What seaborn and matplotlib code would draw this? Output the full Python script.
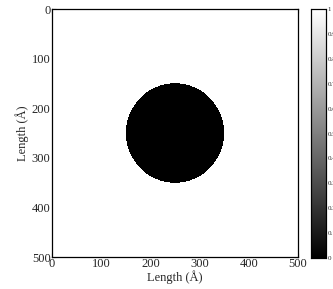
import numpy as np
import pandas as pd
import seaborn as sns
import matplotlib
matplotlib.use("Agg")
import matplotlib.pyplot as plt

# Data: binary mask of a disc on a 500 x 500 Å grid
grid_size = 500
disc_center_x = 250
disc_center_y = 250
disc_radius = 100
inside_value = 0.0
outside_value = 1.0
tick_values = [0, 100, 200, 300, 400, 500]
tick_labels = ["0", "100", "200", "300", "400", "500"]
cbar_ticks = [0, 0.1, 0.2, 0.3, 0.4, 0.5, 0.6, 0.7, 0.8, 0.9, 1.0]
cbar_labels = ["0", "0.1", "0.2", "0.3", "0.4", "0.5", "0.6", "0.7", "0.8", "0.9", "1"]

yy, xx = np.mgrid[0:grid_size, 0:grid_size] + 0.5
mask = (xx - disc_center_x) ** 2 + (yy - disc_center_y) ** 2 <= disc_radius ** 2
field = np.where(mask, inside_value, outside_value)
df = pd.DataFrame(field)

sns.set_style("white")
plt.rcParams["font.family"] = ["Liberation Serif", "DejaVu Serif"]

fig = plt.figure(figsize=(3.33, 2.89), dpi=100)
ax = fig.add_axes([52 / 333, 1 - 257 / 289, 246 / 333, 248 / 289])
cax = fig.add_axes([311 / 333, 1 - 258 / 289, 15 / 333, 249 / 289])

sns.heatmap(df, ax=ax, cbar_ax=cax, cmap="gray", vmin=0, vmax=1,
            xticklabels=False, yticklabels=False, rasterized=True)

ax.set_xticks(tick_values)
ax.set_xticklabels(tick_labels, rotation=0)
ax.set_yticks(tick_values)
ax.set_yticklabels(tick_labels, rotation=0)
ax.set_xlim(0, grid_size)
ax.set_ylim(grid_size, 0)
ax.tick_params(direction="in", length=3, width=0.8, labelsize=9, pad=1,
               top=True, right=True, bottom=True, left=True)
ax.set_xlabel("Length (Å)", fontsize=9, labelpad=0)
ax.set_ylabel("Length (Å)", fontsize=9, labelpad=2)
for s in ax.spines.values():
    s.set_visible(True)
    s.set_color("black")
    s.set_linewidth(0.9)

cax.set_yticks(cbar_ticks)
cax.set_yticklabels(cbar_labels)
cax.tick_params(direction="in", length=2, width=0.6, labelsize=5, pad=1,
                left=True, right=True)
for s in cax.spines.values():
    s.set_visible(True)
    s.set_color("black")
    s.set_linewidth(0.8)

fig.savefig("out.png", dpi=100)
